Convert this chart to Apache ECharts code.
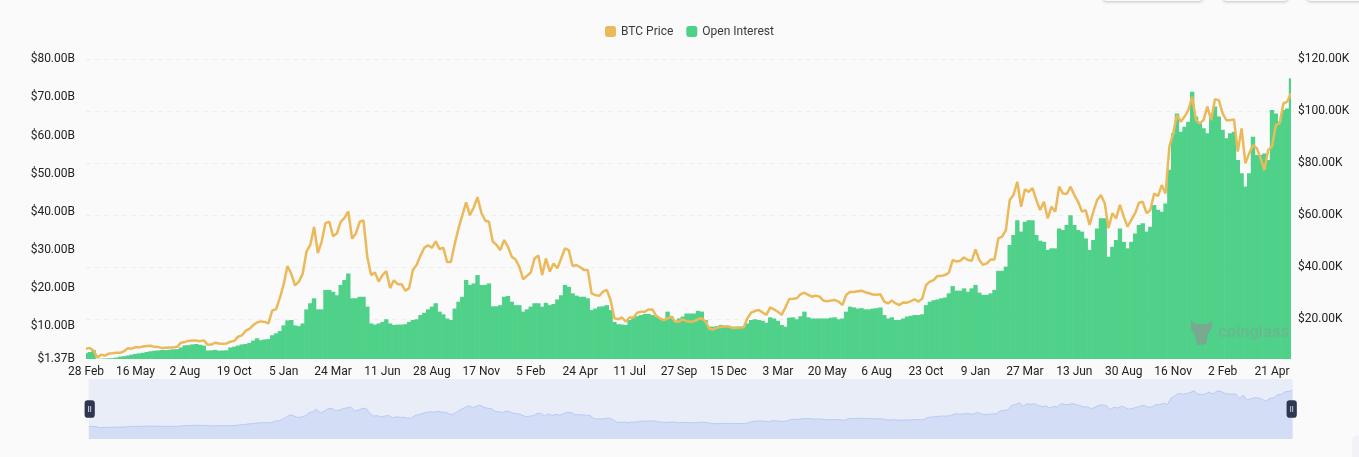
<!DOCTYPE html>
<html><head><meta charset="utf-8">
<style>html,body{margin:0;padding:0;background:#fafafa}#c{width:1359px;height:457px}</style>
<script src="https://cdn.jsdelivr.net/npm/echarts@6/dist/echarts.min.js"></script>
</head><body><div id="c"></div>
<script>
const tickLabels = ['28 Feb','16 May','2 Aug','19 Oct','5 Jan','24 Mar','11 Jun','28 Aug','17 Nov','5 Feb','24 Apr','11 Jul','27 Sep','15 Dec','3 Mar','20 May','6 Aug','23 Oct','9 Jan','27 Mar','13 Jun','30 Aug','16 Nov','2 Feb','21 Apr'];
const leftTicks = [1.37,10,20,30,40,50,60,70,80];
const rightTicks = [20,40,60,80,100,120];
const btcPrice = [
8.7,9.0,7.9,5.3,6.4,6.0,6.8,6.9,7.1,7.1,7.7,8.9,8.7,
9.3,9.2,9.5,9.7,9.8,9.4,9.3,9.0,9.1,9.2,9.2,9.4,11.0,
11.3,11.7,11.8,11.8,11.6,11.9,10.2,10.3,11.0,10.7,10.6,10.7,11.4,
11.7,13.3,13.8,15.6,16.3,17.8,18.8,19.2,19.0,18.4,23.4,23.8,28.2,
33.4,40.5,37.5,33,34.5,37.5,46,48.6,55.5,45.5,49.9,57,57.5,
52,53,57.5,59,61.5,51,53,57.5,58,44,37,38,34.5,
37,38.5,32,35,33.5,33.5,31,32,39,41,44.5,47.5,48.5,
47.5,50,47,47.5,42,42,49,55,60,65,60,63,67,
61,58,57.5,49.9,48.6,46.6,50.5,47.9,44.1,43,40.2,35.4,36.7,
38,43.4,44.5,37,43.4,38.3,41.5,39.6,43.4,47.3,46.6,40.5,40.9,
40,39,39,30,29.3,29,30.6,31.3,27.4,20.4,20,20.7,19.1,
20.7,20.7,22.5,22.9,22.9,23.8,23.8,21.3,20.4,19.7,20.4,21,19.1,
19.1,20,19.3,19.1,19.3,20,20.4,19.1,16.4,16.1,16.8,17,17.2,
17.2,16.7,16.7,16.8,16.9,20.4,22.6,23.2,23.6,22.6,21.7,24.6,23.8,
22.9,21.7,24.6,27.8,27.9,28.1,29.7,30.2,29.4,28.7,29.1,28.7,27.2,
26.9,27.2,27.4,26.8,25.5,29.4,30.5,30.5,30.8,31,30.4,30,29.5,
29.4,29.6,26.8,26.1,27.2,26.1,25.5,26.5,26.4,27,27.7,26.8,28,
33.2,34.5,35.1,36.7,36.7,37,37.9,42.8,42.2,42.5,43.8,42.8,42.5,
46.9,42.8,40.9,41.5,43,43,51.1,51.8,54.3,65.9,67.8,72.9,63.3,
70,69,70.4,65.9,62,65.2,58.8,63.3,61.4,71,68.4,68.2,71,
67.8,65.2,61.4,62,56.3,61.4,65.9,67.8,64.6,55,60.8,58.8,64,
59.5,55.6,58.2,60.8,64.8,65.2,60.8,62,68.4,67.4,71.6,68.4,86.4,
91.5,98.6,96,97.9,100.5,105.6,96.6,95.4,96.6,101.8,96.6,104.6,104.3,
99.2,96.6,96.6,96.9,84.5,93.4,80,83.8,87,85.8,81.9,77.4,85.1,
86.4,94.7,95.4,103,103.7,106.9
];
const openInterest = [
2.9,3.2,3.7,1.4,1.45,1.5,1.55,1.6,1.75,2,2.1,2.3,2.5,
2.7,2.85,3,3.2,3.4,3.55,3.6,3.75,3.7,3.8,3.9,3.95,4.4,
4.95,5,5.2,5.3,5.1,4.9,3.6,3.65,3.75,3.55,3.6,3.65,4.4,
4.6,4.9,5.2,5.3,5.6,6.2,6.8,6.3,6.5,6.6,7.6,8.1,8.7,
10.2,11.5,11.6,10.2,10,10.7,14.4,16,17.3,14.4,14.4,19.5,19.5,
19,18.1,20.8,22.1,23.8,17.3,17.3,17.7,17.7,15.1,10.7,10.4,10.7,
11.1,11.8,10.7,10.3,10.4,10.4,10.5,11.1,11.6,11.8,12.9,13.5,14.4,
15.1,16,13.8,13.1,12,11.6,14.6,16.4,17.7,22.1,20.8,21.2,23.4,
20.8,20.8,21.2,15.2,15.2,15.5,17.7,17.9,16.4,15.5,15.5,13.8,14.4,
15.1,16,16,15.1,16.1,15.5,15.8,17,18.1,20.8,20.3,18.6,18,
17.7,17.7,17.3,14.2,14.6,15.1,15.2,15.5,14.2,11.1,10.5,10.4,10.3,
11.6,12.3,12.6,12.9,13.2,13.2,12.9,12.5,12,11.4,13.8,12.6,11.4,
12,12.5,13.3,13.3,13.3,14,13.8,11.6,9.85,9.85,10,10.3,10.1,
10.1,9.85,9.85,9.85,9.85,10.7,11.6,11.8,11.6,11.4,10.9,12.3,12,
11.4,10.3,9.85,12.2,12.3,11.8,12.6,13.8,12.3,12,12,12,12,
12,12.2,12.3,11.8,12,13.8,15.1,14.9,14.6,14.7,14.4,14.4,14.6,
14.7,14.9,12.9,12,12.3,11.6,11.6,12,12.5,12.7,12.9,12.9,13.1,
15.5,16.4,16.8,17,17.3,17.5,18.6,20.5,19.3,19.3,19.9,19,19.9,
20.8,18.8,18.2,18.2,18.6,19.5,24.5,24.5,25.6,31.3,33.9,37.8,34.8,
37.4,37.8,37.8,33.9,32.4,32.1,30,30.4,30.4,35.6,35.2,36.5,39.1,
36.5,35.2,34.8,33,30,32.6,35.6,38.3,38.3,28.2,30.8,32.6,35.6,
32.1,30.4,32.1,34.3,36.5,37,34.8,36.1,41.8,40.5,40,42.2,51,
60.6,65.8,61,62.3,63.6,71.5,65,63.2,61.9,60.6,65.8,67.6,65,
61.5,59.3,60.6,61,53.6,50.1,46.6,50.1,59.7,54.9,54.9,55.3,53.6,
66.7,65.8,63.6,66.7,67.1,75
];
const monthNames = ['Jan','Feb','Mar','Apr','May','Jun','Jul','Aug','Sep','Oct','Nov','Dec'];
const categories = btcPrice.map((_, i) => {
  if (i % 13 === 0) return tickLabels[i / 13];
  const d = new Date(2020, 1, 28 + i * 6);
  return d.getDate() + ' ' + monthNames[d.getMonth()];
});
const FONT = 'Roboto, sans-serif';
const chart = echarts.init(document.getElementById('c'), null, {renderer:'canvas'});
chart.setOption({
  animation:false,
  backgroundColor:'#fafafa',
  textStyle:{fontFamily:FONT},
  legend:{
    left:600, top:20.5, itemWidth:11, itemHeight:11, itemGap:13, icon:'roundRect',
    itemStyle:{borderWidth:0},
    textStyle:{fontFamily:FONT,fontSize:12,color:'#3a3a3a'},
    data:[{name:'BTC Price'},{name:'Open Interest'}]
  },
  grid:{left:86,right:68,top:59.3,bottom:98},
  xAxis:{
    type:'category',data:categories,boundaryGap:false,
    axisLine:{show:false},axisTick:{show:false},splitLine:{show:false},
    axisLabel:{interval:12,margin:7,fontFamily:FONT,fontSize:12,color:'#222',hideOverlap:false}
  },
  yAxis:[
    {type:'value',position:'left',min:1.37,max:80,
     axisLine:{show:false},
     axisTick:{show:false,customValues:leftTicks},splitLine:{show:false},
     axisLabel:{customValues:leftTicks,margin:11,fontFamily:FONT,fontSize:12,color:'#222',padding:[0,0,4,0],
       formatter:v=>'$'+v.toFixed(2)+'B'}},
    {type:'value',position:'right',min:4.73,max:120,
     axisLine:{show:false},
     axisTick:{show:false,customValues:rightTicks},
     splitLine:{show:true,lineStyle:{color:'#efefef',width:1,type:[5,4]}},
     axisLabel:{customValues:rightTicks,margin:7,fontFamily:FONT,fontSize:12,color:'#222',padding:[0,0,4,0],
       formatter:v=>'$'+v.toFixed(2)+'K'}}
  ],
  dataZoom:[{
    type:'slider',xAxisIndex:0,start:0,end:100,left:86.2,right:68.8,top:379,height:60,
    showDetail:false,brushSelect:false,moveHandleSize:0,filterMode:'none',
    backgroundColor:'#e9edf8',fillerColor:'rgba(0,0,0,0)',borderColor:'transparent',borderRadius:0,
    handleIcon:'path://M30 0H70Q100 0 100 30V140Q100 170 70 170H30Q0 170 0 140V30Q0 0 30 0Z M36 55V115H44V55Z M56 55V115H64V55Z',
    handleSize:'29%',
    handleStyle:{color:'#2f3650',borderWidth:0},
    emphasis:{handleStyle:{color:'#2f3650',borderWidth:0}},
    dataBackground:{lineStyle:{color:'#b8caf5',width:1,opacity:1},areaStyle:{color:'#d4ddf6',opacity:1}},
    selectedDataBackground:{lineStyle:{color:'#b8caf5',width:1,opacity:1},areaStyle:{color:'#d4ddf6',opacity:1}}
  }],
  series:[
    {name:'BTC Price',type:'line',yAxisIndex:1,data:btcPrice,showSymbol:false,smooth:false,z:3,
     lineStyle:{color:'#ecb95a',width:2.5},itemStyle:{color:'#ecb95a'}},
    {name:'Open Interest',type:'bar',yAxisIndex:0,data:openInterest,barWidth:4.4,clip:true,z:2,
     itemStyle:{color:'#4fd189'}}
  ],
  graphic:[
    {type:'rect',silent:true,shape:{x:1103,y:-20,width:100,height:21,r:4},style:{fill:'#fafafa',shadowBlur:3,shadowColor:'rgba(60,70,100,.3)',shadowOffsetY:1}},
    {type:'rect',silent:true,shape:{x:1223,y:-20,width:65,height:21,r:4},style:{fill:'#fafafa',shadowBlur:3,shadowColor:'rgba(60,70,100,.3)',shadowOffsetY:1}},
    {type:'rect',silent:true,shape:{x:1307,y:-20,width:80,height:21,r:4},style:{fill:'#fafafa',shadowBlur:3,shadowColor:'rgba(60,70,100,.3)',shadowOffsetY:1}},
    {type:'rect',silent:true,shape:{x:1352,y:435,width:20,height:30,r:6},style:{fill:'#f1f3f7'}},
    {type:'rect',silent:true,z:9,shape:{x:82,y:340,width:4,height:20},style:{fill:'#fafafa'}},
    {type:'rect',silent:true,z:9,shape:{x:1291,y:70,width:4,height:290},style:{fill:'#fafafa'}},
    {type:'polygon',silent:true,z:10,shape:{points:[[1191,321],[1196,324],[1207,324],[1212,321],[1212,328],[1208,334],[1206,344],[1197,345],[1195,335],[1191,329]]},style:{fill:'rgba(135,155,145,.75)'}},
    {type:'text',silent:true,z:10,style:{x:1218,y:333,text:'coinglass',font:'600 16.5px Roboto, sans-serif',fill:'rgba(125,165,145,.55)',textVerticalAlign:'middle'}}
  ]
});
</script></body></html>
